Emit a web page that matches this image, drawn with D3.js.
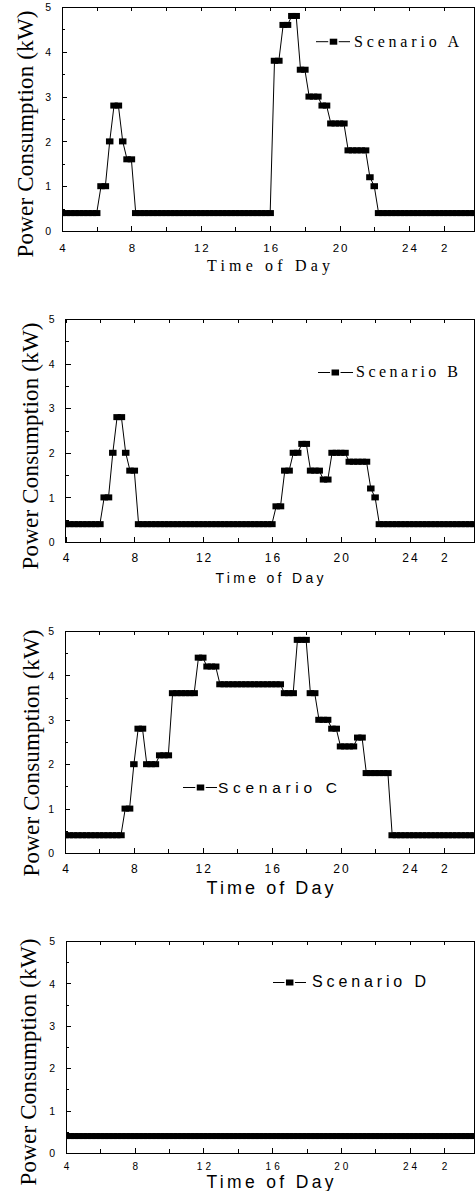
<!DOCTYPE html>
<html>
<head>
<meta charset="utf-8">
<script src="https://cdn.jsdelivr.net/npm/d3@7/dist/d3.min.js"></script>
<style>
  body { margin: 0; background: #fff; }
  svg { display: block; }
  .axis path { display: none; }
  .axis line { stroke: #000; stroke-width: 1; shape-rendering: crispEdges; }
  .axis text { fill: #000; font-family: "Liberation Sans", Arial, sans-serif; }
  .frame { fill: none; stroke: #000; stroke-width: 1; shape-rendering: crispEdges; }
  .series-line { fill: none; stroke: #000; stroke-width: 1; }
  .marker { fill: #000; }
  .serif { font-family: "Liberation Serif", "Times New Roman", serif; }
  .sans { font-family: "Liberation Sans", Arial, sans-serif; }
</style>
</head>
<body>
<div id="chart"></div>
<script>
// Time of day in hours, one reading every 15 min from 4:00 to 3:45 next day (24 = midnight)
var hours = [
  4, 4.25, 4.5, 4.75, 5, 5.25, 5.5, 5.75,
  6, 6.25, 6.5, 6.75, 7, 7.25, 7.5, 7.75,
  8, 8.25, 8.5, 8.75, 9, 9.25, 9.5, 9.75,
  10, 10.25, 10.5, 10.75, 11, 11.25, 11.5, 11.75,
  12, 12.25, 12.5, 12.75, 13, 13.25, 13.5, 13.75,
  14, 14.25, 14.5, 14.75, 15, 15.25, 15.5, 15.75,
  16, 16.25, 16.5, 16.75, 17, 17.25, 17.5, 17.75,
  18, 18.25, 18.5, 18.75, 19, 19.25, 19.5, 19.75,
  20, 20.25, 20.5, 20.75, 21, 21.25, 21.5, 21.75,
  22, 22.25, 22.5, 22.75, 23, 23.25, 23.5, 23.75,
  24, 24.25, 24.5, 24.75, 25, 25.25, 25.5, 25.75,
  26, 26.25, 26.5, 26.75, 27, 27.25, 27.5, 27.75
];

// Power consumption (kW), one row per two hours
var scenarioA = [
  0.4, 0.4, 0.4, 0.4, 0.4, 0.4, 0.4, 0.4,
  0.4, 1.0, 1.0, 2.0, 2.8, 2.8, 2.0, 1.6,
  1.6, 0.4, 0.4, 0.4, 0.4, 0.4, 0.4, 0.4,
  0.4, 0.4, 0.4, 0.4, 0.4, 0.4, 0.4, 0.4,
  0.4, 0.4, 0.4, 0.4, 0.4, 0.4, 0.4, 0.4,
  0.4, 0.4, 0.4, 0.4, 0.4, 0.4, 0.4, 0.4,
  0.4, 3.8, 3.8, 4.6, 4.6, 4.8, 4.8, 3.6,
  3.6, 3.0, 3.0, 3.0, 2.8, 2.8, 2.4, 2.4,
  2.4, 2.4, 1.8, 1.8, 1.8, 1.8, 1.8, 1.2,
  1.0, 0.4, 0.4, 0.4, 0.4, 0.4, 0.4, 0.4,
  0.4, 0.4, 0.4, 0.4, 0.4, 0.4, 0.4, 0.4,
  0.4, 0.4, 0.4, 0.4, 0.4, 0.4, 0.4, 0.4
];

var scenarioB = [
  0.4, 0.4, 0.4, 0.4, 0.4, 0.4, 0.4, 0.4,
  0.4, 1.0, 1.0, 2.0, 2.8, 2.8, 2.0, 1.6,
  1.6, 0.4, 0.4, 0.4, 0.4, 0.4, 0.4, 0.4,
  0.4, 0.4, 0.4, 0.4, 0.4, 0.4, 0.4, 0.4,
  0.4, 0.4, 0.4, 0.4, 0.4, 0.4, 0.4, 0.4,
  0.4, 0.4, 0.4, 0.4, 0.4, 0.4, 0.4, 0.4,
  0.4, 0.8, 0.8, 1.6, 1.6, 2.0, 2.0, 2.2,
  2.2, 1.6, 1.6, 1.6, 1.4, 1.4, 2.0, 2.0,
  2.0, 2.0, 1.8, 1.8, 1.8, 1.8, 1.8, 1.2,
  1.0, 0.4, 0.4, 0.4, 0.4, 0.4, 0.4, 0.4,
  0.4, 0.4, 0.4, 0.4, 0.4, 0.4, 0.4, 0.4,
  0.4, 0.4, 0.4, 0.4, 0.4, 0.4, 0.4, 0.4
];

var scenarioC = [
  0.4, 0.4, 0.4, 0.4, 0.4, 0.4, 0.4, 0.4,
  0.4, 0.4, 0.4, 0.4, 0.4, 0.4, 1.0, 1.0,
  2.0, 2.8, 2.8, 2.0, 2.0, 2.0, 2.2, 2.2,
  2.2, 3.6, 3.6, 3.6, 3.6, 3.6, 3.6, 4.4,
  4.4, 4.2, 4.2, 4.2, 3.8, 3.8, 3.8, 3.8,
  3.8, 3.8, 3.8, 3.8, 3.8, 3.8, 3.8, 3.8,
  3.8, 3.8, 3.8, 3.6, 3.6, 3.6, 4.8, 4.8,
  4.8, 3.6, 3.6, 3.0, 3.0, 3.0, 2.8, 2.8,
  2.4, 2.4, 2.4, 2.4, 2.6, 2.6, 1.8, 1.8,
  1.8, 1.8, 1.8, 1.8, 0.4, 0.4, 0.4, 0.4,
  0.4, 0.4, 0.4, 0.4, 0.4, 0.4, 0.4, 0.4,
  0.4, 0.4, 0.4, 0.4, 0.4, 0.4, 0.4, 0.4
];

var scenarioD = [
  0.4, 0.4, 0.4, 0.4, 0.4, 0.4, 0.4, 0.4,
  0.4, 0.4, 0.4, 0.4, 0.4, 0.4, 0.4, 0.4,
  0.4, 0.4, 0.4, 0.4, 0.4, 0.4, 0.4, 0.4,
  0.4, 0.4, 0.4, 0.4, 0.4, 0.4, 0.4, 0.4,
  0.4, 0.4, 0.4, 0.4, 0.4, 0.4, 0.4, 0.4,
  0.4, 0.4, 0.4, 0.4, 0.4, 0.4, 0.4, 0.4,
  0.4, 0.4, 0.4, 0.4, 0.4, 0.4, 0.4, 0.4,
  0.4, 0.4, 0.4, 0.4, 0.4, 0.4, 0.4, 0.4,
  0.4, 0.4, 0.4, 0.4, 0.4, 0.4, 0.4, 0.4,
  0.4, 0.4, 0.4, 0.4, 0.4, 0.4, 0.4, 0.4,
  0.4, 0.4, 0.4, 0.4, 0.4, 0.4, 0.4, 0.4,
  0.4, 0.4, 0.4, 0.4, 0.4, 0.4, 0.4, 0.4
];

var scenarioNames = ["Scenario A", "Scenario B", "Scenario C", "Scenario D"];

// Axis ticks
var xDomain = [4, 27.75];
var xTicks = [4, 8, 12, 16, 20, 24, 26];
var xTickLabels = ["4", "8", "12", "16", "20", "24", "2"];
var xMinorTicks = [6, 10, 14, 18, 22];
var yDomain = [0, 5];
var yTicks = [0, 1, 2, 3, 4, 5];
var yMinorTicks = [0.5, 1.5, 2.5, 3.5, 4.5];

var xTitle = "Time of Day";
var yTitle = "Power Consumption (kW)";

// Layout of the four stacked panels (the source figure mixes fonts per panel)
var panels = [
  {
    values: scenarioA, name: scenarioNames[0],
    left: 62, right: 474, top: 7, bottom: 231,
    xTickFont: 11.5, xTickSpacing: 2, xTickBaseline: 20.5,
    xTitleFont: "serif", xTitleSize: 16, xTitleX: 268.5, xTitleY: 271, xTitleLen: 123,
    yTitleX: 25, yTitleY: 134,
    legend: { x1: 316, x2: 350, mx: 333.5, y: 41.7, tx: 354, ty: 47, font: "serif", size: 16, len: 105 }
  },
  {
    values: scenarioB, name: scenarioNames[1],
    left: 65.5, right: 474, top: 319, bottom: 542,
    xTickFont: 12, xTickSpacing: 2, xTickBaseline: 20,
    xTitleFont: "sans", xTitleSize: 14, xTitleX: 269.5, xTitleY: 583, xTitleLen: 108,
    yTitleX: 30, yTitleY: 446,
    legend: { x1: 318, x2: 353, mx: 335.3, y: 372.5, tx: 356, ty: 377.3, font: "serif", size: 16, len: 102 }
  },
  {
    values: scenarioC, name: scenarioNames[2],
    left: 65, right: 474, top: 631, bottom: 853,
    xTickFont: 12, xTickSpacing: 2, xTickBaseline: 20,
    xTitleFont: "sans", xTitleSize: 18, xTitleX: 270, xTitleY: 894, xTitleLen: 127,
    yTitleX: 31, yTitleY: 753,
    legend: { x1: 183, x2: 217, mx: 200.5, y: 787.5, tx: 218, ty: 792.5, font: "sans", size: 15.5, len: 119 }
  },
  {
    values: scenarioD, name: scenarioNames[3],
    left: 66, right: 474, top: 941, bottom: 1153,
    xTickFont: 10, xTickSpacing: 3, xTickBaseline: 17,
    xTitleFont: "sans", xTitleSize: 17.5, xTitleX: 270, xTitleY: 1187.5, xTitleLen: 127,
    yTitleX: 28, yTitleY: 1062,
    legend: { x1: 273, x2: 306, mx: 289.7, y: 982.5, tx: 312, ty: 986.5, font: "sans", size: 16, len: 114 }
  }
];

var markerW = 7.5;
var markerH = 6;
var legendGap = 1.5;

var svg = d3.select("#chart")
  .append("svg")
  .attr("width", 475)
  .attr("height", 1191);

var defs = svg.append("defs");

// Render one panel.
var renderPanel = function(config, index) {
  var xScale = d3.scaleLinear().domain(xDomain).range([config.left, config.right]);
  var yScale = d3.scaleLinear().domain(yDomain).range([config.bottom, config.top]);
  var height = config.bottom - config.top;

  var panel = svg.append("g").attr("class", "panel panel-" + index);

  // Bottom axis: inward ticks, labels below
  var xAxis = d3.axisBottom(xScale)
    .tickValues(xTicks)
    .tickFormat((d, i) => xTickLabels[i])
    .tickSizeInner(-5)
    .tickSizeOuter(0);

  var xAxisG = panel.append("g")
    .attr("class", "x axis")
    .attr("transform", "translate(0," + config.bottom + ")")
    .call(xAxis);

  xAxisG.selectAll("text")
    .attr("y", config.xTickBaseline)
    .attr("dy", 0)
    .attr("dx", config.xTickSpacing / 2)
    .style("font-size", config.xTickFont + "px")
    .style("letter-spacing", config.xTickSpacing + "px");

  panel.append("g")
    .attr("class", "x axis minor")
    .attr("transform", "translate(0," + config.bottom + ")")
    .call(d3.axisBottom(xScale).tickValues(xMinorTicks).tickFormat("").tickSizeInner(-4).tickSizeOuter(0));

  // Top axis: ticks only
  panel.append("g")
    .attr("class", "x axis top")
    .attr("transform", "translate(0," + config.top + ")")
    .call(d3.axisTop(xScale).tickValues(xTicks.concat(xMinorTicks)).tickFormat("").tickSizeInner(-4).tickSizeOuter(0));

  // Left axis
  var yAxisG = panel.append("g")
    .attr("class", "y axis")
    .attr("transform", "translate(" + config.left + ",0)")
    .call(d3.axisLeft(yScale).tickValues(yTicks).tickFormat(d3.format("d")).tickSizeInner(-5).tickSizeOuter(0).tickPadding(11));

  yAxisG.selectAll("text")
    .attr("dy", "0.36em")
    .style("font-size", "10.5px");

  panel.append("g")
    .attr("class", "y axis minor")
    .attr("transform", "translate(" + config.left + ",0)")
    .call(d3.axisLeft(yScale).tickValues(yMinorTicks).tickFormat("").tickSizeInner(-3).tickSizeOuter(0));

  // Frame
  panel.append("rect")
    .attr("class", "frame")
    .attr("x", config.left)
    .attr("y", config.top)
    .attr("width", config.right - config.left)
    .attr("height", height);

  // Clip the series to the plot box
  defs.append("clipPath")
    .attr("id", "clip-" + index)
    .append("rect")
    .attr("x", config.left)
    .attr("y", config.top - 1)
    .attr("width", config.right - config.left + 1)
    .attr("height", height + 2);

  var points = hours.map((h, i) => ({ hour: h, value: config.values[i] }));

  var series = panel.append("g").attr("clip-path", "url(#clip-" + index + ")");

  var line = d3.line()
    .x(d => xScale(d.hour))
    .y(d => yScale(d.value));

  series.append("path")
    .datum(points)
    .attr("class", "series-line")
    .attr("d", line);

  series.append("g")
    .selectAll("rect")
    .data(points)
    .enter()
    .append("rect")
    .attr("class", "marker")
    .attr("x", d => xScale(d.hour) - markerW / 2)
    .attr("y", d => yScale(d.value) - markerH / 2)
    .attr("width", markerW)
    .attr("height", markerH);

  // Axis titles
  panel.append("text")
    .attr("class", config.xTitleFont)
    .attr("x", config.xTitleX)
    .attr("y", config.xTitleY)
    .attr("text-anchor", "middle")
    .attr("textLength", config.xTitleLen)
    .attr("lengthAdjust", "spacing")
    .style("font-size", config.xTitleSize + "px")
    .text(xTitle);

  panel.append("text")
    .attr("class", "serif")
    .attr("transform", "translate(" + config.yTitleX + "," + config.yTitleY + ") rotate(-90)")
    .attr("text-anchor", "middle")
    .attr("dominant-baseline", "central")
    .attr("textLength", 247)
    .attr("lengthAdjust", "spacing")
    .style("font-size", "23px")
    .text(yTitle);

  // Legend: line - marker - line, with small gaps round the marker
  var lg = config.legend;
  var legendG = panel.append("g").attr("class", "legend");

  legendG.selectAll("line")
    .data([[lg.x1, lg.mx - markerW / 2 - legendGap], [lg.mx + markerW / 2 + legendGap, lg.x2]])
    .enter()
    .append("line")
    .attr("x1", d => d[0])
    .attr("x2", d => d[1])
    .attr("y1", lg.y)
    .attr("y2", lg.y)
    .attr("stroke", "#000")
    .attr("stroke-width", 1);

  legendG.append("rect")
    .attr("class", "marker")
    .attr("x", lg.mx - markerW / 2)
    .attr("y", lg.y - markerH / 2)
    .attr("width", markerW)
    .attr("height", markerH);

  legendG.append("text")
    .attr("class", lg.font)
    .attr("x", lg.tx)
    .attr("y", lg.ty)
    .attr("textLength", lg.len)
    .attr("lengthAdjust", "spacing")
    .style("font-size", lg.size + "px")
    .text(config.name);
};

panels.forEach(renderPanel);
</script>
</body>
</html>
